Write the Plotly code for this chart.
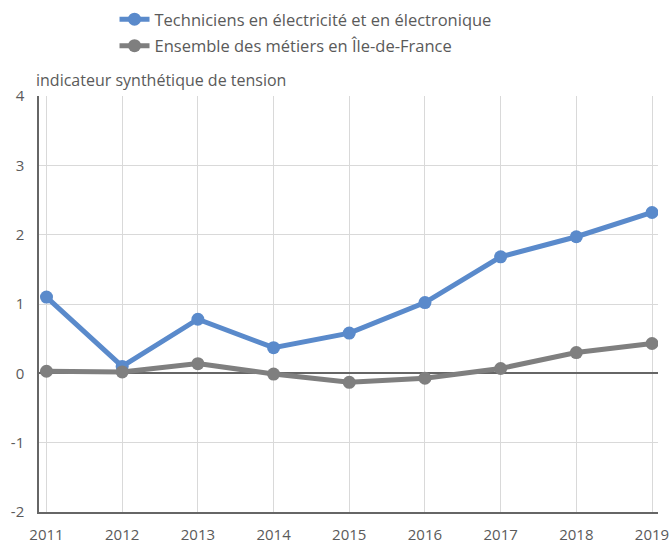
import plotly.graph_objects as go

years = [2011, 2012, 2013, 2014, 2015, 2016, 2017, 2018, 2019]
techniciens = [1.10, 0.10, 0.78, 0.37, 0.58, 1.02, 1.68, 1.97, 2.32]
ensemble = [0.03, 0.02, 0.14, -0.01, -0.13, -0.07, 0.07, 0.30, 0.43]
y_ticks = [-2, -1, 0, 1, 2, 3, 4]

fig = go.Figure()
fig.add_trace(go.Scatter(
    x=years, y=techniciens, mode="lines+markers",
    name="Techniciens en électricité et en électronique",
    legendgroup="a",
    line=dict(color="#5A8ACB", width=5),
    marker=dict(size=13, color="#5A8ACB"),
))
fig.add_trace(go.Scatter(
    x=years, y=ensemble, mode="lines+markers",
    name="Ensemble des métiers en Île-de-France",
    legendgroup="b",
    line=dict(color="#7F7F7F", width=5),
    marker=dict(size=13, color="#7F7F7F"),
))

fig.update_layout(
    width=669, height=543,
    margin=dict(l=39, r=11, t=96, b=31, autoexpand=False),
    paper_bgcolor="white", plot_bgcolor="white",
    font=dict(family="Open Sans", size=15, color="#5A5A5A"),
    legend=dict(
        x=0.122, y=1.226, xanchor="left", yanchor="top",
        font=dict(size=16.5, color="#5A5A5A"),
        bgcolor="rgba(0,0,0,0)", traceorder="grouped", tracegroupgap=2,
    ),
    xaxis=dict(
        range=[2010.901, 2019.079], automargin=False,
        tickmode="array", tickvals=years, ticktext=[str(y) for y in years],
        showgrid=True, gridcolor="#D9D9D9", gridwidth=1,
        showline=True, linecolor="#666666", linewidth=1.5,
        ticks="", ticklabelstandoff=8, ticklabeloverflow="allow",
        tickfont=dict(size=15, color="#5A5A5A"),
        zeroline=False,
    ),
    yaxis=dict(
        range=[-2, 4], automargin=False,
        tickmode="array", tickvals=y_ticks, ticktext=[str(v) for v in y_ticks],
        showgrid=True, gridcolor="#D9D9D9", gridwidth=1,
        showline=True, linecolor="#666666", linewidth=1.5,
        zeroline=True, zerolinecolor="#666666", zerolinewidth=1.5,
        ticks="", ticklabelstandoff=10,
        tickfont=dict(size=15, color="#5A5A5A"),
    ),
    annotations=[dict(
        text="indicateur synthétique de tension",
        xref="paper", yref="paper", x=-0.008, y=1.038,
        xanchor="left", yanchor="middle", showarrow=False,
        font=dict(size=16, color="#5A5A5A"),
    )],
)

fig.write_html(
    "out.html",
    config={"displayModeBar": False},
    post_script="document.body.style.margin='0';document.body.style.overflow='hidden';",
)
